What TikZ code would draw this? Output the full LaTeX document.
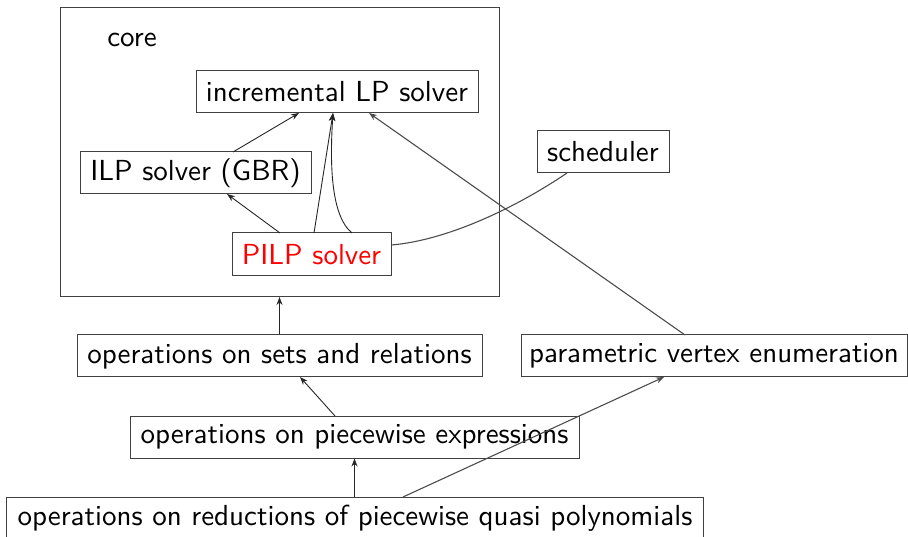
\documentclass[tikz,border=0pt]{standalone}
\usetikzlibrary{arrows.meta}
\newcommand\lbl[1]{\scalebox{2.9}{#1}}
\begin{document}
\begin{tikzpicture}[x=1pt,y=-1pt,
  box/.style={draw=black!75,line width=1pt,inner sep=0pt,font=\sffamily\fontsize{10}{12}\selectfont},
  link/.style={draw=black!85,line width=0.9pt,-{Stealth[length=8pt,width=6pt]}},
  greylink/.style={draw=black!70,line width=1.1pt}]
\useasboundingbox (0,0) rectangle (908,537);
% outer frame of the core library
\node[box,minimum width=439pt,minimum height=289pt] (core) at (279.5,152) {};
\node[font=\sffamily\fontsize{10}{12}\selectfont,inner sep=0pt] (corelabel) at (132,40) {\lbl{core}};
% components
\node[box,minimum width=282pt,minimum height=42pt] (lp) at (337,92) {\lbl{incremental LP solver}};
\node[box,minimum width=231pt,minimum height=42pt] (ilp) at (195.5,173) {\lbl{ILP solver (GBR)}};
\node[box,minimum width=159pt,minimum height=43pt,text=red] (pilp) at (311.5,254.5) {\lbl{PILP solver}};
\node[box,minimum width=132pt,minimum height=42pt] (sched) at (603,152) {\lbl{scheduler}};
\node[box,minimum width=405pt,minimum height=42pt] (sets) at (279.5,356) {\lbl{operations on sets and relations}};
\node[box,minimum width=386pt,minimum height=42pt] (pve) at (714,356) {\lbl{parametric vertex enumeration}};
\node[box,minimum width=449pt,minimum height=42pt] (pw) at (354.5,437) {\lbl{operations on piecewise expressions}};
\node[box,minimum width=697pt,minimum height=42pt] (qp) at (355,518) {\lbl{operations on reductions of piecewise quasi polynomials}};
% dependencies
\coordinate (ilpT) at (233,152);
\coordinate (lpA) at (299,113);
\coordinate (lpB) at (333,113);
\coordinate (lpC) at (369,113);
\coordinate (pilpA) at (280,233);
\coordinate (pilpB) at (314,233);
\coordinate (pilpC) at (352,233);
\coordinate (ilpB) at (227,194);
\draw[link] (ilpT) -- (lpA);
\draw[link] (pilpA) -- (ilpB);
\draw[link] (pilpB) -- (lpB);
\draw[link] (pilpC) .. controls (330,215) and (330,160) .. (lpB);
\draw[greylink] (pilp.east |- 0,245) .. controls (450,240) and (520,205) .. (567,173);
\draw[greylink,-{Stealth[length=8pt,width=6pt]}] (685,335) -- (lpC);
\draw[link] (sets.north) -- (core.south);
\draw[link] (335,416) -- (300,377);
\draw[link] (qp.north -| pw.south) -- (pw.south);
\draw[greylink,-{Stealth[length=8pt,width=6pt]}] (403,497) -- (664,377);
\end{tikzpicture}
\end{document}
